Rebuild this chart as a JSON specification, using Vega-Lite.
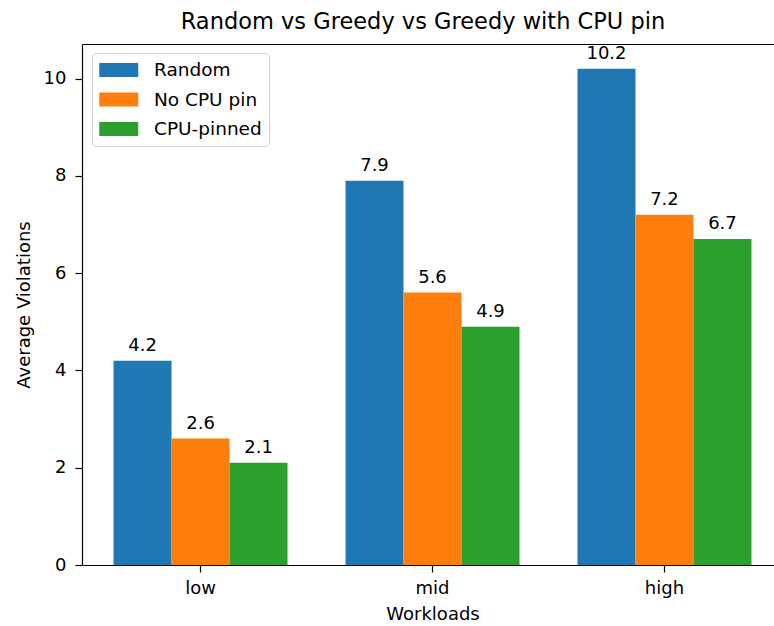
{
  "$schema": "https://vega.github.io/schema/vega-lite/v6.json",
  "width": 692,
  "height": 521,
  "autosize": {"type": "none"},
  "padding": {"left": 82, "top": 44, "right": 0, "bottom": 61},
  "background": "white",
  "title": {
    "text": "Random vs Greedy vs Greedy with CPU pin",
    "font": "DejaVu Sans",
    "fontSize": 22.5,
    "fontWeight": "normal",
    "color": "#000000",
    "anchor": "middle",
    "frame": "group",
    "baseline": "alphabetic",
    "offset": 16,
    "dx": -5,
    "dy": 23
  },
  "config": {
    "view": {"stroke": null},
    "font": "DejaVu Sans",
    "axis": {
      "labelFont": "DejaVu Sans",
      "labelFontSize": 18,
      "labelColor": "#000000",
      "titleFont": "DejaVu Sans",
      "titleFontSize": 18,
      "titleFontWeight": "normal",
      "titleColor": "#000000",
      "domainColor": "#000000",
      "domainWidth": 1.2,
      "tickColor": "#000000",
      "tickWidth": 1.2,
      "tickSize": 7,
      "grid": false
    }
  },
  "data": {
    "values": [
      {"workload": "low", "series": "Random", "value": 4.2},
      {"workload": "low", "series": "No CPU pin", "value": 2.6},
      {"workload": "low", "series": "CPU-pinned", "value": 2.1},
      {"workload": "mid", "series": "Random", "value": 7.9},
      {"workload": "mid", "series": "No CPU pin", "value": 5.6},
      {"workload": "mid", "series": "CPU-pinned", "value": 4.9},
      {"workload": "high", "series": "Random", "value": 10.2},
      {"workload": "high", "series": "No CPU pin", "value": 7.2},
      {"workload": "high", "series": "CPU-pinned", "value": 6.7}
    ]
  },
  "encoding": {
    "xOffset": {
      "field": "series",
      "type": "nominal",
      "sort": ["Random", "No CPU pin", "CPU-pinned"],
      "scale": {"paddingInner": 0, "paddingOuter": 0}
    },
    "y": {
      "field": "value",
      "type": "quantitative",
      "scale": {"domain": [0, 10.71], "nice": false, "zero": true},
      "axis": {
        "values": [0, 2, 4, 6, 8, 10],
        "title": "Average Violations",
        "labelPadding": 9,
        "titlePadding": 10
      }
    }
  },
  "layer": [
    {
      "mark": {"type": "bar"},
      "encoding": {
        "x": {
          "field": "workload",
          "type": "nominal",
          "sort": ["low", "mid", "high"],
          "scale": {"range": [0, 701], "paddingInner": 0.25, "paddingOuter": 0.136},
          "axis": {
            "orient": "bottom",
            "title": "Workloads",
            "labelAngle": 0,
            "labelPadding": 7,
            "titlePadding": 8
          }
        },
        "color": {
          "field": "series",
          "type": "nominal",
          "sort": ["Random", "No CPU pin", "CPU-pinned"],
          "scale": {
            "domain": ["Random", "No CPU pin", "CPU-pinned"],
            "range": ["#1f77b4", "#ff7f0e", "#2ca02c"]
          },
          "legend": {
            "title": null,
            "orient": "none",
            "legendX": 10,
            "legendY": 9,
            "symbolType": "M-1,-0.72H3V0.72H-1Z",
            "symbolSize": 380,
            "symbolStrokeWidth": 0,
            "symbolOpacity": 1,
            "labelFont": "DejaVu Sans",
            "labelFontSize": 18.5,
            "labelColor": "#000000",
            "labelOffset": 35,
            "rowPadding": 9.5,
            "padding": 7,
            "strokeColor": "#d0d0d0",
            "fillColor": "#ffffff",
            "cornerRadius": 4
          }
        }
      }
    },
    {
      "mark": {
        "type": "text",
        "baseline": "alphabetic",
        "align": "center",
        "dy": -10,
        "fontSize": 18,
        "font": "DejaVu Sans",
        "color": "#000000"
      },
      "encoding": {
        "x": {
          "field": "workload",
          "type": "nominal",
          "sort": ["low", "mid", "high"],
          "axis": {
            "orient": "top",
            "labels": false,
            "ticks": false,
            "title": null,
            "domain": true
          }
        },
        "text": {"field": "value", "type": "quantitative", "format": ".1f"}
      }
    }
  ],
  "resolve": {"axis": {"x": "independent"}}
}
